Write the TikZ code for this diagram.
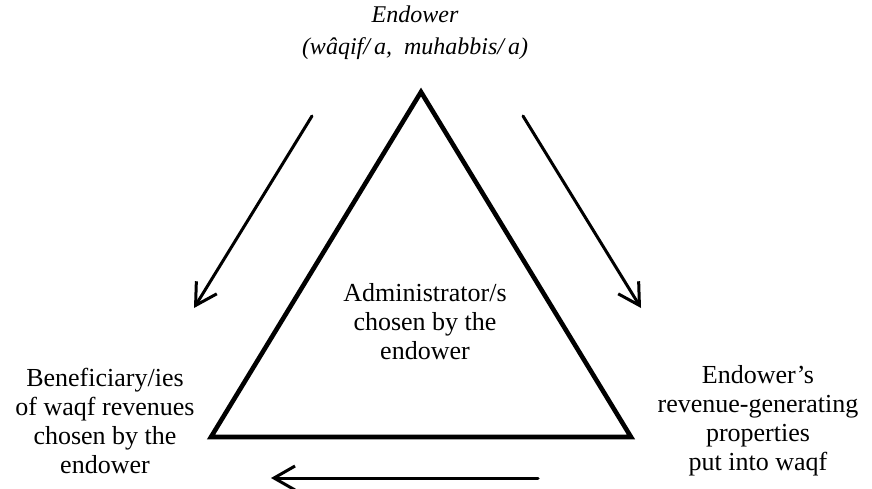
\documentclass[tikz,border=0pt]{standalone}
\usepackage{fontspec}
\setmainfont{Liberation Serif}
\usetikzlibrary{arrows.meta}
\tikzset{
  lbl/.style={align=center, inner sep=0pt, font=\fontsize{26}{29}\selectfont},
  toplbl/.style={align=center, inner sep=0pt, font=\fontsize{24}{32}\selectfont\itshape},
  tri/.style={line width=4.6pt, line join=miter},
  flow/.style={line width=3pt, line cap=round, -{Straight Barb[length=21pt,width=24pt,line width=3pt]}}
}
\begin{document}
\begin{tikzpicture}[x=1pt,y=-1pt]
\useasboundingbox (0,0) rectangle (872,488);
% triangle
\coordinate (apex) at (421,92);
\coordinate (bl) at (211,437);
\coordinate (br) at (631,437);
\draw[tri] (apex) -- (br) -- (bl) -- cycle;
% labels
\node[toplbl] (endower) at (415,33) {Endower\\(wâqif/\,a, \ muhabbis/\,a)};
\node[lbl] (admin) at (425,322) {Administrator/s\\chosen by the\\endower};
\node[lbl] (benef) at (105,421) {Beneficiary/ies\\of waqf revenues\\chosen by the\\endower};
\node[lbl] (props) at (758,421) {Endower’s\\revenue-generating\\properties\\put into waqf};
% arrows
\coordinate (la1) at (312,116);
\coordinate (la2) at (194,308);
\coordinate (ra1) at (523,116);
\coordinate (ra2) at (641,308);
\coordinate (ba1) at (538,478);
\coordinate (ba2) at (271,478);
\draw[flow] (la1) -- (la2);
\draw[flow] (ra1) -- (ra2);
\draw[flow] (ba1) -- (ba2);
\end{tikzpicture}
\end{document}
